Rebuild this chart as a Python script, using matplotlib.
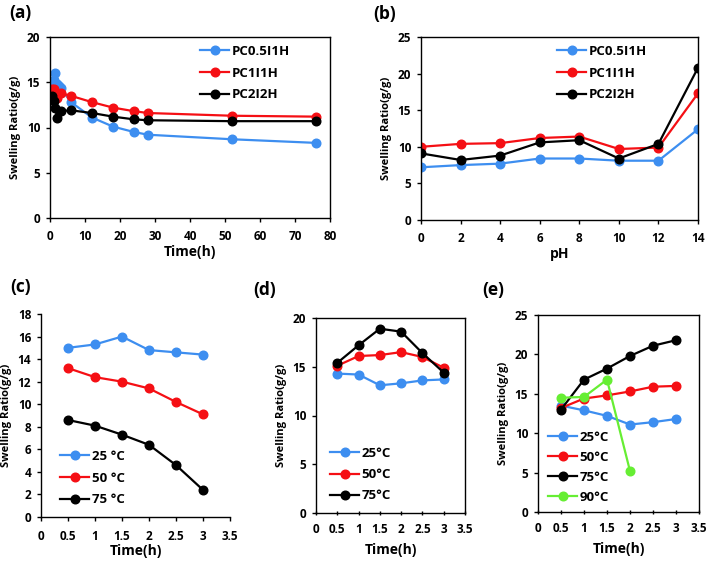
import matplotlib.pyplot as plt

plt.rcParams['font.family'] = ['Open Sans', 'DejaVu Sans']
plt.rcParams['font.weight'] = 'bold'

BLUE = '#3d8ef0'
RED = '#f50f14'
BLACK = '#000000'
GREEN = '#66ee33'

# (a) swelling vs time
time_a = [0.5, 1, 1.5, 2, 2.5, 3, 6, 12, 18, 24, 28, 52, 76]
a_pc05 = [15.0, 15.3, 16.0, 14.8, 14.6, 14.4, 12.8, 11.1, 10.1, 9.5, 9.2, 8.7, 8.3]
time_a2 = [0.5, 1, 1.5, 2, 3, 6, 12, 18, 24, 28, 52, 76]
a_pc1 = [14.3, 14.2, 13.6, 13.3, 13.8, 13.5, 12.8, 12.2, 11.8, 11.6, 11.3, 11.2]
a_pc2 = [13.5, 12.9, 12.2, 11.1, 11.8, 11.9, 11.6, 11.2, 10.9, 10.8, 10.7, 10.7]

# (b) swelling vs pH
ph = [0, 2, 4, 6, 8, 10, 12, 14]
b_pc05 = [7.2, 7.5, 7.7, 8.4, 8.4, 8.1, 8.1, 12.4]
b_pc1 = [10.0, 10.4, 10.5, 11.2, 11.4, 9.7, 9.9, 17.3]
b_pc2 = [9.1, 8.2, 8.8, 10.6, 10.9, 8.4, 10.4, 20.8]

# (c), (d), (e) swelling vs time at temperatures
time_t = [0.5, 1, 1.5, 2, 2.5, 3]
c_25 = [15.0, 15.3, 16.0, 14.8, 14.6, 14.4]
c_50 = [13.2, 12.4, 12.0, 11.4, 10.2, 9.1]
c_75 = [8.6, 8.1, 7.3, 6.4, 4.6, 2.4]

d_25 = [14.3, 14.2, 13.1, 13.3, 13.6, 13.7]
d_50 = [15.1, 16.1, 16.2, 16.5, 16.0, 14.9]
d_75 = [15.4, 17.2, 18.9, 18.6, 16.4, 14.4]

e_25 = [13.5, 12.9, 12.2, 11.1, 11.4, 11.8]
e_50 = [13.2, 14.4, 14.8, 15.3, 15.9, 16.0]
e_75 = [13.0, 16.8, 18.2, 19.8, 21.1, 21.8]
time_e90 = [0.5, 1, 1.5, 2]
e_90 = [14.5, 14.6, 16.8, 5.2]

t_ticks = [0, 0.5, 1, 1.5, 2, 2.5, 3, 3.5]
t_labels = ['0', '0.5', '1', '1.5', '2', '2.5', '3', '3.5']

W, H = 709, 561
fig = plt.figure(figsize=(W / 100, H / 100), dpi=100)


def px_axes(left, right, top, bottom):
    return fig.add_axes([left / W, (H - bottom) / H, (right - left) / W, (bottom - top) / H])


def style(ax, box=True, xdir='out'):
    for s in ax.spines.values():
        s.set_color('black')
        s.set_linewidth(1.0)
    if not box:
        ax.spines['top'].set_visible(False)
        ax.spines['right'].set_visible(False)
    ax.tick_params(length=3, width=1, labelsize=8.5)
    ax.tick_params(axis='x', direction=xdir, pad=6)
    ax.tick_params(axis='y', direction='out', pad=4)
    for lab in ax.get_xticklabels() + ax.get_yticklabels():
        lab.set_fontweight('bold')


def line(ax, x, y, c, label):
    ax.plot(x, y, color=c, lw=1.6, marker='o', ms=6.2, label=label)


def leg(ax, anchor, spacing, loc='upper left', size=9.5):
    ax.legend(loc=loc, bbox_to_anchor=anchor, frameon=False, borderaxespad=0, borderpad=0,
              handlelength=2.2, handletextpad=0.2, labelspacing=spacing,
              prop={'weight': 'bold', 'size': size})


def labels(ax, xl, xpad):
    ax.set_xlabel(xl, fontsize=10, fontweight='bold', labelpad=xpad)
    ax.set_ylabel('Swelling Ratio(g/g)', fontsize=8, fontweight='bold', labelpad=4)


# (a)
ax = px_axes(50, 330, 37, 218)
line(ax, time_a, a_pc05, BLUE, 'PC0.5I1H')
line(ax, time_a2, a_pc1, RED, 'PC1I1H')
line(ax, time_a2, a_pc2, BLACK, 'PC2I2H')
ax.set_xlim(0, 80)
ax.set_ylim(0, 20)
ax.set_xticks(range(0, 81, 10))
ax.set_yticks(range(0, 21, 5))
style(ax)
labels(ax, 'Time(h)', 1)
leg(ax, ((200 - 50) / 280, (218 - 45) / 181), 0.65)
fig.text(9 / W, 1 - 13 / H, '(a)', fontsize=12.5, fontweight='bold', va='center')

# (b)
ax = px_axes(421, 698, 37, 220)
line(ax, ph, b_pc05, BLUE, 'PC0.5I1H')
line(ax, ph, b_pc1, RED, 'PC1I1H')
line(ax, ph, b_pc2, BLACK, 'PC2I2H')
ax.set_xlim(0, 14)
ax.set_ylim(0, 25)
ax.set_xticks(range(0, 15, 2))
ax.set_yticks(range(0, 26, 5))
style(ax)
labels(ax, 'pH', 1)
leg(ax, ((557 - 421) / 277, (220 - 45) / 183), 0.65)
fig.text(373 / W, 1 - 14 / H, '(b)', fontsize=12.5, fontweight='bold', va='center')

# (c)
ax = px_axes(41, 230, 314, 517)
line(ax, time_t, c_25, BLUE, '25 °C')
line(ax, time_t, c_50, RED, '50 °C')
line(ax, time_t, c_75, BLACK, '75 °C')
ax.set_xlim(0, 3.5)
ax.set_ylim(0, 18)
ax.set_xticks(t_ticks)
ax.set_xticklabels(t_labels)
ax.set_yticks(range(0, 19, 2))
style(ax, box=False)
labels(ax, 'Time(h)', 1)
leg(ax, ((60 - 41) / 189, (517 - 450) / 203), 0.65)
fig.text(10 / W, 1 - 287 / H, '(c)', fontsize=12.5, fontweight='bold', va='center')

# (d)
ax = px_axes(316, 465, 318, 513)
line(ax, time_t, d_25, BLUE, '25°C')
line(ax, time_t, d_50, RED, '50°C')
line(ax, time_t, d_75, BLACK, '75°C')
ax.set_xlim(0, 3.5)
ax.set_ylim(0, 20)
ax.set_xticks(t_ticks)
ax.set_xticklabels(t_labels)
ax.set_yticks(range(0, 21, 5))
style(ax, xdir='inout')
labels(ax, 'Time(h)', 5)
leg(ax, ((330 - 316) / 149, (513 - 447) / 195), 0.62)
fig.text(253 / W, 1 - 290 / H, '(d)', fontsize=12.5, fontweight='bold', va='center')

# (e)
ax = px_axes(538, 699, 315, 512)
line(ax, time_t, e_25, BLUE, '25°C')
line(ax, time_t, e_50, RED, '50°C')
line(ax, time_t, e_75, BLACK, '75°C')
line(ax, time_e90, e_90, GREEN, '90°C')
ax.set_xlim(0, 3.5)
ax.set_ylim(0, 25)
ax.set_xticks(t_ticks)
ax.set_xticklabels(t_labels)
ax.set_yticks(range(0, 26, 5))
style(ax, xdir='inout')
labels(ax, 'Time(h)', 5)
leg(ax, ((548 - 538) / 161, (512 - 431) / 197), 0.52)
fig.text(482 / W, 1 - 290 / H, '(e)', fontsize=12.5, fontweight='bold', va='center')

fig.savefig('out.png', dpi=100)
